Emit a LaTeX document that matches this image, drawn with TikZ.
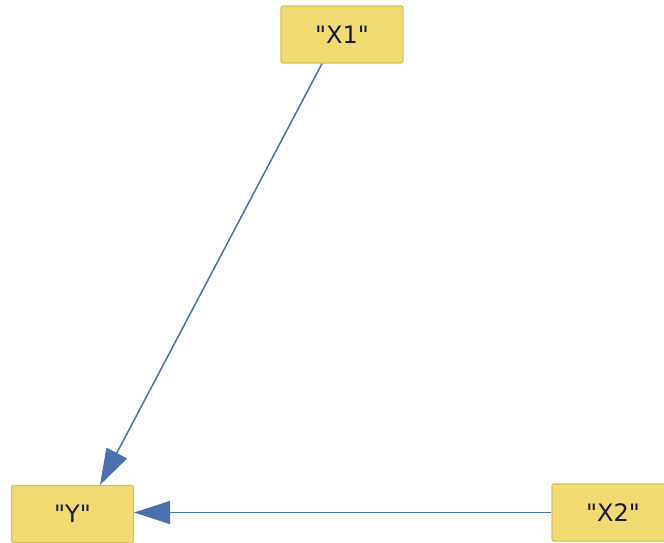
\documentclass[tikz,border=0pt]{standalone}
\usepackage{fontspec}
\setmainfont{DejaVu Sans}
\usetikzlibrary{arrows.meta}

\definecolor{boxfill}{HTML}{F2DA72}
\definecolor{boxline}{HTML}{D8BF5C}
\definecolor{edgeblue}{HTML}{4A70B0}
\definecolor{textnavy}{HTML}{141C3A}

\tikzset{
    varbox/.style={draw=boxline, fill=boxfill, line width=1.2pt, rounded corners=2pt,
        minimum width=122pt, minimum height=57pt, inner sep=0pt,
        text=textnavy, font=\fontsize{24}{28}\selectfont},
    link/.style={draw=edgeblue, line width=1.5pt,
        -{Triangle[length=36pt,width=23pt]}}
}

\begin{document}
\begin{tikzpicture}[x=1pt, y=-1pt]
    % Canvas
    \useasboundingbox (0,0) rectangle (664,542);

    % Variables
    \node[varbox] (x1) at (342,34.5) {\textquotedbl X1\textquotedbl};
    \node[varbox] (y) at (72.5,514) {\textquotedbl Y\textquotedbl};
    \node[varbox] (x2) at (613,512.5) {\textquotedbl X2\textquotedbl};

    % Effects on Y
    \draw[link] ([xshift=-20pt]x1.south) -- ([xshift=27.5pt]y.north);
    \draw[link] (x2.west) -- (x2.west -| y.east);

\end{tikzpicture}
\end{document}
